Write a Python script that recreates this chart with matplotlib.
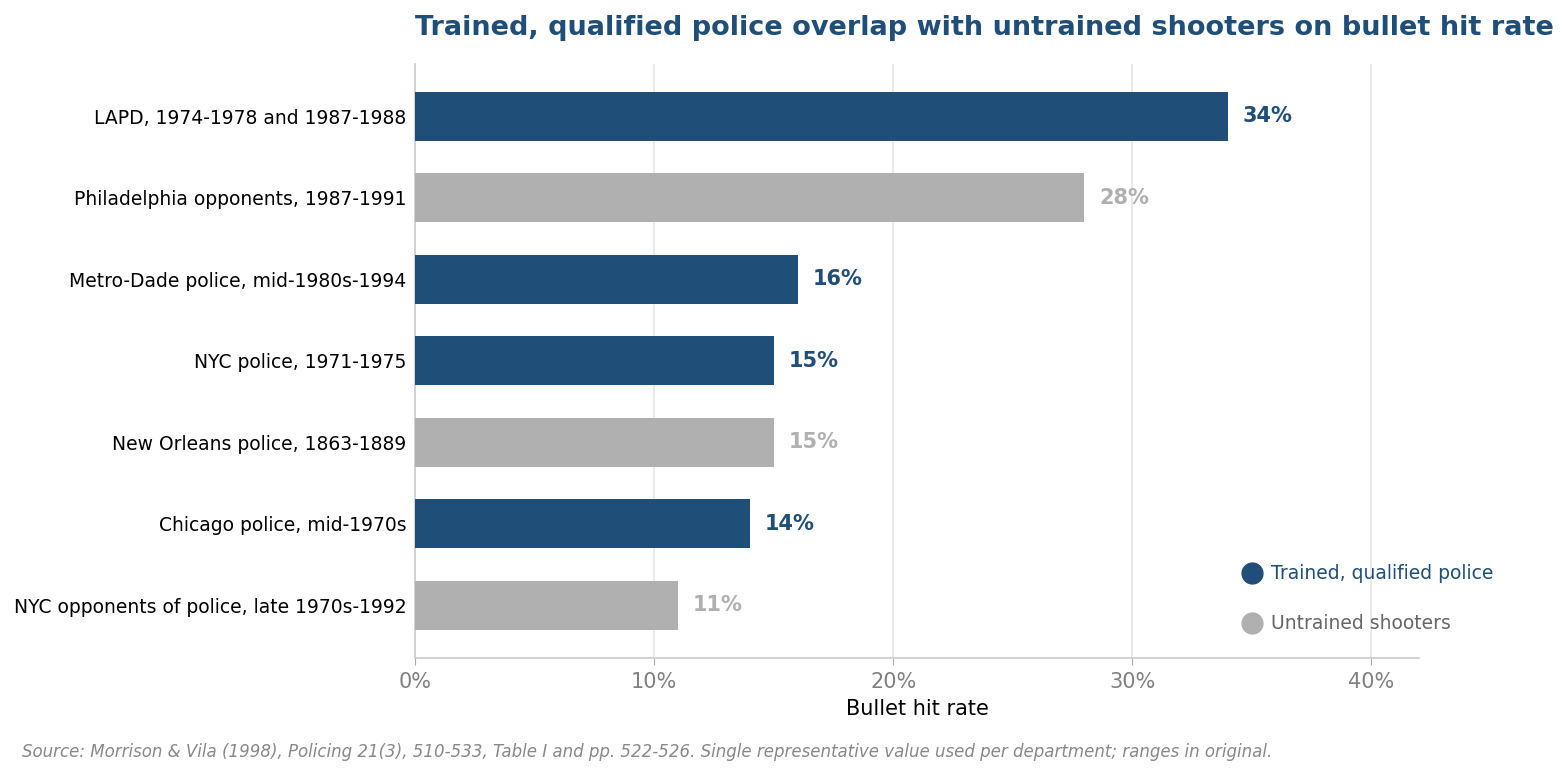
import matplotlib
matplotlib.use("Agg")
import matplotlib.pyplot as plt
from matplotlib.lines import Line2D

categories = [
    "LAPD, 1974-1978 and 1987-1988",
    "Philadelphia opponents, 1987-1991",
    "Metro-Dade police, mid-1980s-1994",
    "NYC police, 1971-1975",
    "New Orleans police, 1863-1889",
    "Chicago police, mid-1970s",
    "NYC opponents of police, late 1970s-1992",
]
values = [34, 28, 16, 15, 15, 14, 11]
groups = ["trained", "untrained", "trained", "trained", "untrained", "trained", "untrained"]
xticks = [0, 10, 20, 30, 40]

BLUE = "#1f4e79"
GRAY = "#b0b0b0"
colors = {"trained": BLUE, "untrained": GRAY}

fig = plt.figure(figsize=(15.68, 7.76), dpi=100)
ax = fig.add_axes([0.2647, 0.152, 0.6403, 0.7655])

y = list(range(len(categories)))
ax.barh(y, values, height=0.6, color=[colors[g] for g in groups], zorder=3)
for yi, v, g in zip(y, values, groups):
    ax.text(v + 0.62, yi, f"{v}%", va="center", ha="left", fontsize=15,
            fontweight="bold", color=colors[g])

ax.set_yticks(y)
ax.set_yticklabels(categories, fontsize=13.5, color="black")
ax.set_ylim(6.65, -0.64)
ax.set_xlim(0, 42)
ax.set_xticks(xticks)
ax.set_xticklabels([f"{t}%" for t in xticks], fontsize=15, color="#808080")
ax.tick_params(axis="y", length=0, pad=6)
ax.tick_params(axis="x", length=5, color="#aaaaaa", pad=5)
ax.set_xlabel("Bullet hit rate", fontsize=15, color="black", labelpad=5)

ax.grid(axis="x", color="#e6e6e6", linewidth=1.2, zorder=0)
ax.set_axisbelow(True)
for s in ["top", "right"]:
    ax.spines[s].set_visible(False)
ax.spines["left"].set_color("#cccccc")
ax.spines["bottom"].set_color("#cccccc")
ax.spines["left"].set_linewidth(1.2)
ax.spines["bottom"].set_linewidth(1.2)

handles = [
    Line2D([0], [0], marker="o", linestyle="none", markersize=15,
           markerfacecolor=BLUE, markeredgecolor=BLUE, label="Trained, qualified police"),
    Line2D([0], [0], marker="o", linestyle="none", markersize=15,
           markerfacecolor=GRAY, markeredgecolor=GRAY, label="Untrained shooters"),
]
leg = ax.legend(handles=handles, loc="center left", bbox_to_anchor=(0.8243, 0.0995),
                frameon=False, fontsize=13.5, handlelength=1.0, handletextpad=0.5,
                labelspacing=1.65, borderpad=0, borderaxespad=0)
leg.get_texts()[0].set_color(BLUE)
leg.get_texts()[1].set_color("#666666")

fig.text(415 / 1568, 1 - 28 / 776, "Trained, qualified police overlap with untrained shooters on bullet hit rate",
         fontsize=19.5, fontweight="bold", color=BLUE, ha="left", va="center")
fig.text(22 / 1568, 1 - 752 / 776,
         "Source: Morrison & Vila (1998), Policing 21(3), 510-533, Table I and pp. 522-526. Single representative value used per department; ranges in original.",
         fontsize=12, style="italic", color="#888888", ha="left", va="center")

fig.savefig("out.png", dpi=100)
